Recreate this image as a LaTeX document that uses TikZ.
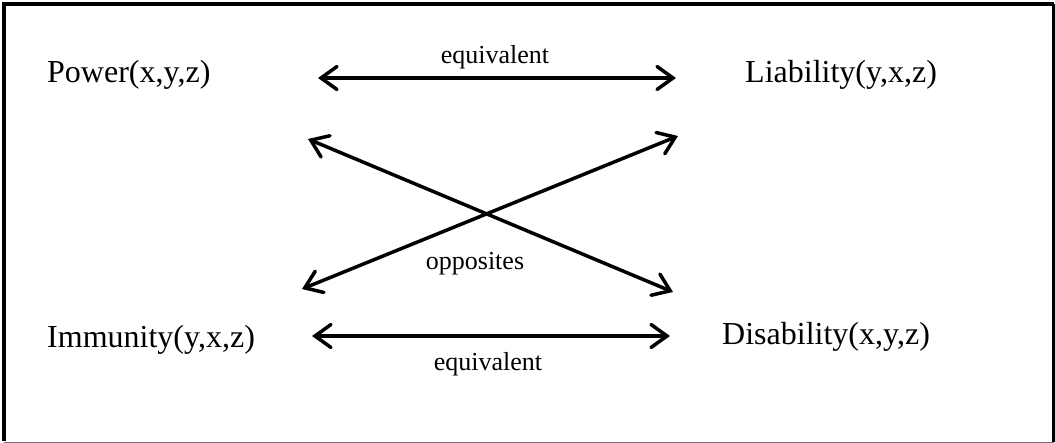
\documentclass[tikz,border=0pt]{standalone}
\usepackage{fontspec}
\setmainfont{Liberation Serif}
\usetikzlibrary{arrows.meta}
\begin{document}
\begin{tikzpicture}[x=1pt,y=-1pt,
  term/.style={inner sep=0pt,anchor=base west,font=\fontsize{32}{36}\selectfont},
  lbl/.style={inner sep=0pt,anchor=base,font=\fontsize{26}{30}\selectfont},
  rel/.style={line width=3.5pt,{Straight Barb[length=16pt,width=23pt,line cap=round]}-{Straight Barb[length=16pt,width=23pt,line cap=round]}}]
\useasboundingbox (0,0) rectangle (1055,443);
\draw[line width=4pt] (4,441) -- (4,4) -- (1053.5,4);
\draw[line width=3pt] (1053.5,4) -- (1053.5,442);
\draw[line width=1.5pt,black!55] (4,442.3) -- (1053.5,442.3);
\node[term] (p) at (47,83) {Power(x,y,z)};
\node[term] (l) at (745,83) {Liability(y,x,z)};
\node[term] (i) at (47,348) {Immunity(y,x,z)};
\node[term] (d) at (722,345) {Disability(x,y,z)};
\coordinate (a1) at (318,78);
\coordinate (a2) at (676,78);
\coordinate (b1) at (312,336);
\coordinate (b2) at (670,336);
\coordinate (c1) at (308,139);
\coordinate (c2) at (673,292);
\coordinate (e1) at (302,289);
\coordinate (e2) at (678,136);
\draw[rel] (a1) -- (a2);
\draw[rel] (b1) -- (b2);
\draw[rel] (c1) -- (c2);
\draw[rel] (e1) -- (e2);
\node[lbl] (eq1) at (495,64) {equivalent};
\node[lbl] (eq2) at (488,371) {equivalent};
\node[lbl] (op) at (475,270) {opposites};
\end{tikzpicture}
\end{document}
